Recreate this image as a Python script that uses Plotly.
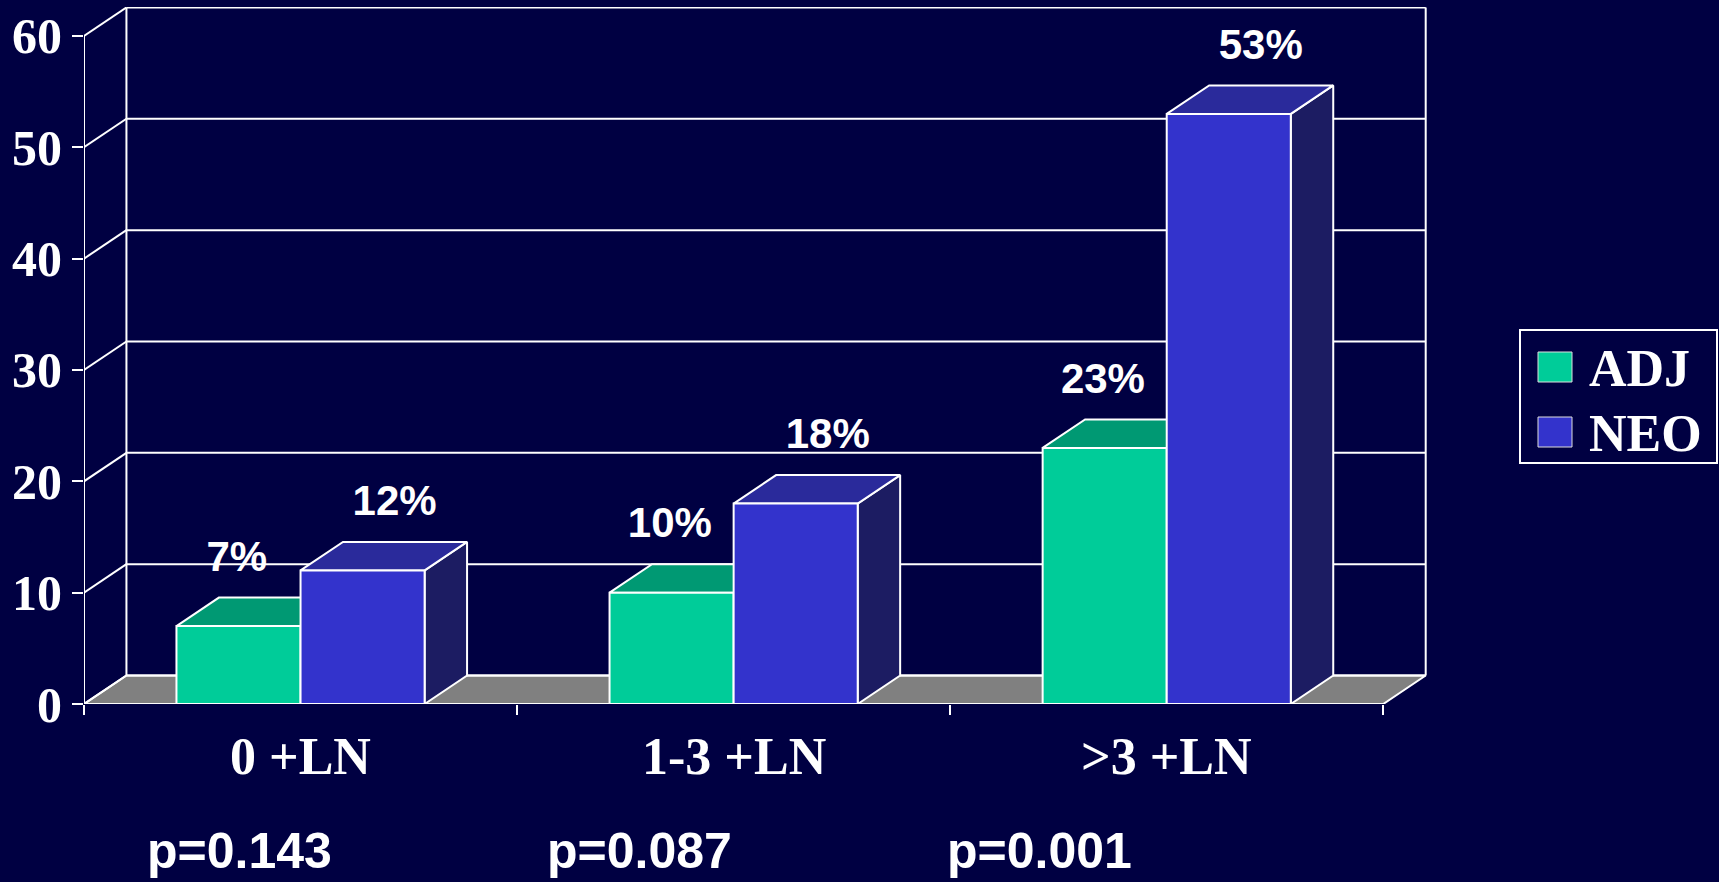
import plotly.graph_objects as go

# ---------------- data ----------------
categories = ["0 +LN", "1-3 +LN", ">3 +LN"]
series_names = ["ADJ", "NEO"]
adj_values = [7, 10, 23]
neo_values = [12, 18, 53]
value_labels_adj = ["7%", "10%", "23%"]
value_labels_neo = ["12%", "18%", "53%"]
p_values = ["p=0.143", "p=0.087", "p=0.001"]
y_ticks = [0, 10, 20, 30, 40, 50, 60]

# ---------------- style / layout constants ----------------
W, H = 1719, 882
ML, MR, MT, MB = 84, 292, 7, 178
PW, PH = W - ML - MR, H - MT - MB
BG = "#000042"
FRONT = {"ADJ": "#00CC99", "NEO": "#3333CC"}
TOP = {"ADJ": "#009973", "NEO": "#2A2A9B"}
SIDE = {"ADJ": "#006B50", "NEO": "#1C1C62"}
FLOOR = "#808080"
EDGE = "white"
SERIF = "Liberation Serif, Times New Roman, serif"
SANS = "Liberation Sans, Arial, sans-serif"

X_RANGE = [-0.5, 2.601]
Y_RANGE = [0, 62.6]
DX, DY = 0.098, 2.56          # 3-D depth offset in data units
GROUP_W = 0.573               # width of a pair of bars
BW = GROUP_W / 2
LABEL_DY = 5.9                # data-label offset above bar front top
NEO_LABEL_DX = 0.074          # NEO labels sit a bit to the right
ADJ_LABEL_DX = -0.004


def px2x(px):
    return (px - ML) / PW


def py2y(py):
    return (H - MB - py) / PH


fig = go.Figure()

x_lo, x_hi = -0.5, len(categories) - 0.5

# floor
fig.add_trace(go.Scatter(
    x=[x_lo, x_hi, x_hi + DX, x_lo + DX, x_lo],
    y=[0, 0, DY, DY, 0],
    fill="toself", fillcolor=FLOOR, mode="lines",
    line=dict(color=EDGE, width=2), hoverinfo="skip", showlegend=False))

# back wall gridlines + verticals
gx, gy = [], []
for v in y_ticks:
    gx += [x_lo + DX, x_hi + DX, None]
    gy += [v + DY, v + DY, None]
for xv in (x_lo + DX, x_hi + DX):
    gx += [xv, xv, None]
    gy += [DY, y_ticks[-1] + DY, None]
# side wall diagonals
for v in y_ticks:
    gx += [x_lo, x_lo + DX, None]
    gy += [v, v + DY, None]
# front vertical axis
gx += [x_lo, x_lo, None]
gy += [0, y_ticks[-1], None]
fig.add_trace(go.Scatter(x=gx, y=gy, mode="lines",
                         line=dict(color=EDGE, width=2),
                         hoverinfo="skip", showlegend=False))

# bars (3-D boxes)
for i, cat in enumerate(categories):
    for s, (name, vals) in enumerate((("ADJ", adj_values), ("NEO", neo_values))):
        v = vals[i]
        xl = i - GROUP_W / 2 + s * BW
        xr = xl + BW
        # side face
        fig.add_trace(go.Scatter(
            x=[xr, xr + DX, xr + DX, xr, xr],
            y=[0, DY, v + DY, v, 0],
            fill="toself", fillcolor=SIDE[name], mode="lines",
            line=dict(color=EDGE, width=2), hoverinfo="skip", showlegend=False))
        # top face
        fig.add_trace(go.Scatter(
            x=[xl, xr, xr + DX, xl + DX, xl],
            y=[v, v, v + DY, v + DY, v],
            fill="toself", fillcolor=TOP[name], mode="lines",
            line=dict(color=EDGE, width=2), hoverinfo="skip", showlegend=False))
        # front face
        fig.add_trace(go.Scatter(
            x=[xl, xr, xr, xl, xl],
            y=[0, 0, v, v, 0],
            fill="toself", fillcolor=FRONT[name], mode="lines",
            line=dict(color=EDGE, width=2), name=name,
            hovertemplate=f"{cat}<br>{name}: {v}%<extra></extra>",
            showlegend=False))

# data labels
lab_x, lab_y, lab_t = [], [], []
for i in range(len(categories)):
    lab_x += [i - BW / 2 + ADJ_LABEL_DX, i + BW / 2 + NEO_LABEL_DX]
    lab_y += [adj_values[i] + LABEL_DY, neo_values[i] + LABEL_DY]
    lab_t += [value_labels_adj[i], value_labels_neo[i]]
fig.add_trace(go.Scatter(
    x=lab_x, y=lab_y, text=lab_t, mode="text", textposition="middle center",
    textfont=dict(family=SANS, size=42, color="white", weight="bold"),
    hoverinfo="skip", showlegend=False, cliponaxis=False))

annotations = []
# category labels
for i, cat in enumerate(categories):
    annotations.append(dict(
        x=i, xref="x", y=py2y(757), yref="paper", text=cat, showarrow=False,
        xanchor="center", yanchor="middle",
        font=dict(family=SERIF, size=52, color="white", weight="bold")))
# p-values
p_left_px = [145, 545, 945]
for pv, lp in zip(p_values, p_left_px):
    annotations.append(dict(
        x=px2x(lp), xref="paper", y=py2y(851), yref="paper", text=pv,
        showarrow=False, xanchor="left", yanchor="middle",
        font=dict(family=SANS, size=50, color="white", weight="bold")))

# legend (drawn manually)
shapes = [dict(type="rect", xref="paper", yref="paper",
               x0=px2x(1520), x1=px2x(1717), y0=py2y(330), y1=py2y(463),
               line=dict(color=EDGE, width=2), fillcolor=BG)]
leg_rows = [367, 432]
for name, row in zip(series_names, leg_rows):
    shapes.append(dict(type="rect", xref="paper", yref="paper",
                       x0=px2x(1538), x1=px2x(1572), y0=py2y(row - 15), y1=py2y(row + 15),
                       line=dict(color="#DDDDDD", width=1), fillcolor=FRONT[name]))
    annotations.append(dict(
        x=px2x(1587), xref="paper", y=py2y(row + 1), yref="paper", text=name,
        showarrow=False, xanchor="left", yanchor="middle",
        font=dict(family=SERIF, size=52, color="white", weight="bold")))

fig.update_layout(
    width=W, height=H,
    margin=dict(l=ML, r=MR, t=MT, b=MB),
    paper_bgcolor=BG, plot_bgcolor=BG,
    showlegend=False,
    shapes=shapes, annotations=annotations,
    xaxis=dict(range=X_RANGE, showgrid=False, zeroline=False, showline=False,
               tickmode="array", tickvals=[-0.5, 0.5, 1.5, 2.5],
               ticks="outside", ticklen=10, tickwidth=2, tickcolor="white",
               showticklabels=False, fixedrange=True),
    yaxis=dict(range=Y_RANGE, showgrid=False, zeroline=False, showline=False,
               tickmode="array", tickvals=y_ticks,
               ticks="outside", ticklen=11, tickwidth=2, tickcolor="white",
               tickfont=dict(family=SERIF, size=50, color="white", weight="bold"),
               fixedrange=True),
)

fig.write_html("out.html")
